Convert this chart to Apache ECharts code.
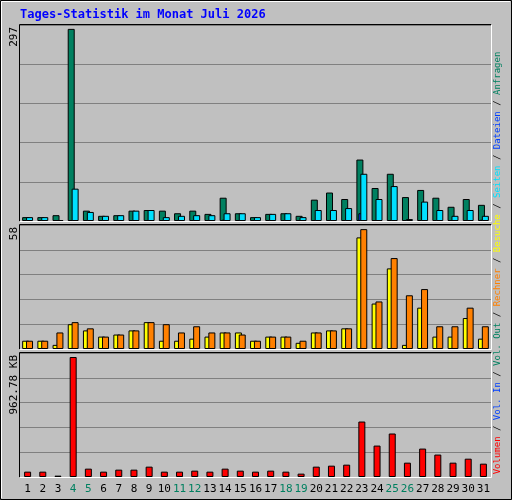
<!DOCTYPE html>
<html><head><meta charset="utf-8">
<script src="https://cdn.jsdelivr.net/npm/echarts@6/dist/echarts.min.js"></script>
<style>html,body{margin:0;padding:0;background:#c0c0c0}#c{width:512px;height:500px}</style>
</head><body><div id="c"></div>
<script>
const days = ['1','2','3','4','5','6','7','8','9','10','11','12','13','14','15','16','17','18','19','20','21','22','23','24','25','26','27','28','29','30','31'];
const weekendDays = ['4','5','11','12','18','19','25','26'];
const anfragen = [6,6,9,297,16,8,9,16,17,16,12,16,11,36,12,6,11,12,8,33,44,34,95,51,73,37,48,36,22,34,25];
const dateien  = [1,1,1,1,1,1,1,1,1,1,1,1,1,2,1,1,1,1,1,1,1,1,12,1,1,1,1,1,1,1,2];
const seiten   = [6,6,1,50,14,8,9,16,17,6,8,9,9,12,12,6,11,12,6,17,17,20,73,34,54,3,30,17,8,17,8];
const besuche  = [4,4,2,12,9,6,7,9,13,4,4,5,6,8,8,4,6,6,3,8,9,10,54,22,39,2,20,6,6,15,5];
const rechner  = [4,4,8,13,10,6,7,9,13,12,8,11,8,8,7,4,6,6,4,8,9,10,58,23,44,26,29,11,11,20,11];
const volumenKB = [43,43,11,962.78,67,43,59,59,83,43,43,51,43,67,51,43,51,43,27,83,91,99,445,252,349,115,228,180,115,147,107];
const maxLabels = ['297','58','962.78 KB'];

const C = {anf:'#008060', dat:'#0040ff', sei:'#00e0ff', bes:'#ffff00', rec:'#ff8000', vol:'#ff0000'};
const grids = [
  {left:20, right:21, top:25, height:196},
  {left:20, right:21, top:225, height:124},
  {left:20, right:21, top:353, height:124}
];
const maxes = [303, 60, 994.9];
const mono = 'DejaVu Sans Mono';
const bs = {borderColor:'#000', borderWidth:1};

const chart = echarts.init(document.getElementById('c'));
const xAxes = grids.map((g,i)=>({
  type:'category', gridIndex:i, data:days,
  axisLine:{show:false}, axisTick:{show:false},
  axisLabel:{show:i===2, fontFamily:mono, fontSize:11, margin:7, interval:0,
    color:(v)=>weekendDays.includes(v)?'#008060':'#000'}
}));
const yAxes = grids.map((g,i)=>({
  type:'value', gridIndex:i, min:0, max:maxes[i], interval:maxes[i]/5,
  axisLabel:{show:false}, axisLine:{show:false}, axisTick:{show:false},
  splitLine:{lineStyle:{color:'#808080', width:1}}
}));

// frames
const gfx = [];
gfx.push({type:'rect', shape:{x:0.5,y:0.5,width:511,height:499}, style:{fill:'none', stroke:'#000'}});
gfx.push({type:'polyline', shape:{points:[[1.5,498],[1.5,1.5],[510,1.5]]}, style:{fill:'none',stroke:'#fff'}});
grids.forEach(g=>{
  const x0=g.left-0.5, x1=512-g.right+0.5, y0=g.top-0.5, y1=g.top+g.height+0.5;
  gfx.push({type:'polyline', z:10, shape:{points:[[x0,y1],[x0,y0],[x1,y0]]}, style:{fill:'none',stroke:'#000'}});
  gfx.push({type:'polyline', z:10, shape:{points:[[x1,y0],[x1,y1],[x0,y1]]}, style:{fill:'none',stroke:'#fff'}});
});
gfx.push({type:'text', x:20, y:15, style:{text:'Tages-Statistik im Monat Juli 2026', fill:'#0000ff', font:'bold 12px "DejaVu Sans Mono"', verticalAlign:'middle'}});
[[27,0],[227,1],[355,2]].forEach(([y,i])=>{
  gfx.push({type:'text', x:14, y:y, rotation:Math.PI/2, style:{text:maxLabels[i], fill:'#000', font:'11px "DejaVu Sans Mono"', align:'right', verticalAlign:'middle'}});
});
gfx.push({type:'text', x:498, y:263, rotation:Math.PI/2, style:{
  text:'{v|Volumen} / {i|Vol. In} / {o|Vol. Out} / {r|Rechner} / {b|Besuche} / {s|Seiten} / {d|Dateien} / {a|Anfragen}',
  font:'9px "DejaVu Sans Mono"', fill:'#000', align:'center', verticalAlign:'middle',
  rich:{v:{fill:C.vol},i:{fill:C.dat},o:{fill:C.anf},r:{fill:C.rec},b:{fill:C.bes},s:{fill:C.sei},d:{fill:C.dat},a:{fill:C.anf}}
}});

chart.setOption({
  backgroundColor:'#c0c0c0', animation:false,
  grid:grids, xAxis:xAxes, yAxis:yAxes,
  series:[
    {type:'bar', xAxisIndex:0, yAxisIndex:0, data:anfragen, barWidth:7, barGap:'-72%', itemStyle:Object.assign({color:C.anf},bs)},
    {type:'bar', xAxisIndex:0, yAxisIndex:0, data:dateien, barWidth:7, barGap:'-72%', itemStyle:Object.assign({color:C.dat},bs)},
    {type:'bar', xAxisIndex:0, yAxisIndex:0, data:seiten, barWidth:7, barGap:'-72%', itemStyle:Object.assign({color:C.sei},bs)},
    {type:'bar', xAxisIndex:1, yAxisIndex:1, data:besuche, barWidth:7, barGap:'-45%', itemStyle:Object.assign({color:C.bes},bs)},
    {type:'bar', xAxisIndex:1, yAxisIndex:1, data:rechner, barWidth:7, barGap:'-45%', itemStyle:Object.assign({color:C.rec},bs)},
    {type:'bar', xAxisIndex:2, yAxisIndex:2, data:volumenKB, barWidth:7, itemStyle:Object.assign({color:C.vol},bs)}
  ],
  graphic:gfx
});
</script></body></html>
